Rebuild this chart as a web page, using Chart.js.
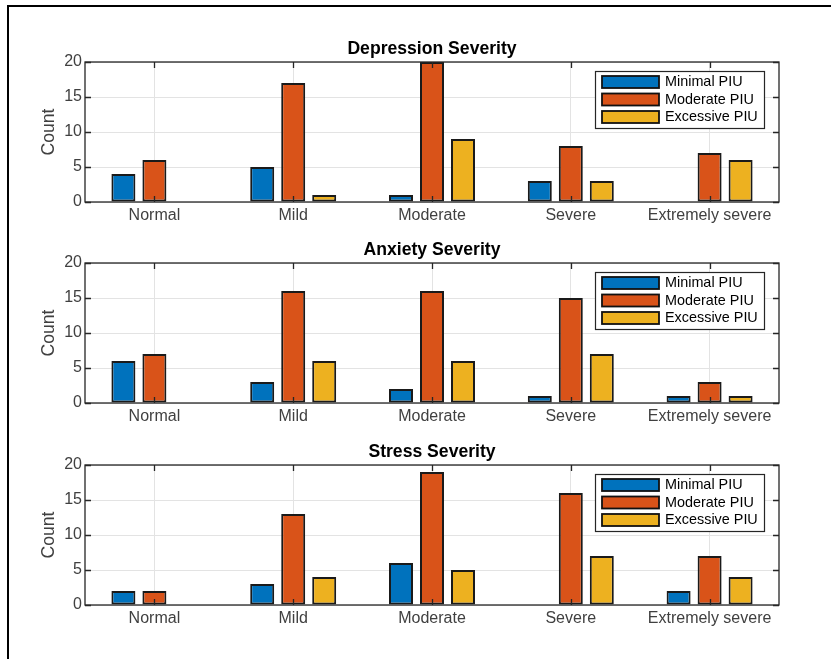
<!DOCTYPE html>
<html>
<head>
<meta charset="utf-8">
<script src="https://cdn.jsdelivr.net/npm/chart.js@4.4.0/dist/chart.umd.min.js"></script>
<style>
body { margin: 0; background: #fff; }
#wrap { position: relative; width: 831px; height: 659px; overflow: hidden; background: #fff; }
#frame { position: absolute; left: 7px; top: 5px; right: -10px; bottom: -10px; border-top: 2px solid #000; border-left: 2px solid #000; }
canvas { position: absolute; left: 0; }
</style>
</head>
<body>
<div id="wrap">
	<div id="frame"></div>
	<canvas id="c0" width="831" height="240" style="top:0px"></canvas>
	<canvas id="c1" width="831" height="240" style="top:201px"></canvas>
	<canvas id="c2" width="831" height="240" style="top:403px"></canvas>
</div>
<script>
const severityLevels = ['Normal', 'Mild', 'Moderate', 'Severe', 'Extremely severe'];
const piuGroups = ['Minimal PIU', 'Moderate PIU', 'Excessive PIU'];
const piuColors = ['#0072BD', '#D95319', '#EDB120'];
const panelTitles = ['Depression Severity', 'Anxiety Severity', 'Stress Severity'];
const yTicks = [0, 5, 10, 15, 20];

// counts per severity level
const depressionMinimal = [4, 5, 1, 3, 0];
const depressionModerate = [6, 17, 20, 8, 7];
const depressionExcessive = [0, 1, 9, 3, 6];

const anxietyMinimal = [6, 3, 2, 1, 1];
const anxietyModerate = [7, 16, 16, 15, 3];
const anxietyExcessive = [0, 6, 6, 7, 1];

const stressMinimal = [2, 3, 6, 0, 2];
const stressModerate = [2, 13, 19, 16, 7];
const stressExcessive = [0, 4, 5, 7, 4];

const panelSeries = [
	[depressionMinimal, depressionModerate, depressionExcessive],
	[anxietyMinimal, anxietyModerate, anxietyExcessive],
	[stressMinimal, stressModerate, stressExcessive]
];

const FONT = '"Liberation Sans", Arial, Helvetica, sans-serif';
const AXIS_COLOR = '#262626';

// MATLAB-like box, inward ticks, title and legend
const matlabAxes = {
	id: 'matlabAxes',
	afterDatasetsDraw(chart, args, opts) {
		const { ctx, chartArea: a, scales: { x, y } } = chart;
		const tl = 6;
		ctx.save();
		ctx.strokeStyle = AXIS_COLOR;
		ctx.lineWidth = 1.3;
		ctx.strokeRect(a.left, a.top, a.right - a.left, a.bottom - a.top);
		ctx.beginPath();
		severityLevels.forEach((_, i) => {
			const px = Math.round(x.getPixelForValue(i)) + 0.5;
			ctx.moveTo(px, a.bottom); ctx.lineTo(px, a.bottom - tl);
			ctx.moveTo(px, a.top); ctx.lineTo(px, a.top + tl);
		});
		yTicks.forEach(v => {
			const py = Math.round(y.getPixelForValue(v)) + 0.5;
			ctx.moveTo(a.left, py); ctx.lineTo(a.left + tl, py);
			ctx.moveTo(a.right, py); ctx.lineTo(a.right - tl, py);
		});
		ctx.stroke();

		// title
		ctx.fillStyle = '#000';
		ctx.font = 'bold 17.6px ' + FONT;
		ctx.textAlign = 'center';
		ctx.textBaseline = 'alphabetic';
		ctx.fillText(opts.title, (a.left + a.right) / 2, a.top - 8);

		// legend box
		const bw = 169, bh = 57;
		const bx = a.right - 15 - bw, by = a.top + 9;
		ctx.fillStyle = '#fff';
		ctx.fillRect(bx, by, bw, bh);
		ctx.strokeStyle = AXIS_COLOR;
		ctx.lineWidth = 1.2;
		ctx.strokeRect(bx + 0.5, by + 0.5, bw, bh);
		ctx.font = '14.4px ' + FONT;
		ctx.textAlign = 'left';
		ctx.textBaseline = 'middle';
		piuGroups.forEach((name, i) => {
			const sy = by + 5 + i * 17.5;
			ctx.fillStyle = piuColors[i];
			ctx.fillRect(bx + 7, sy, 57, 12);
			ctx.strokeStyle = '#111';
			ctx.lineWidth = 1.8;
			ctx.strokeRect(bx + 7, sy, 57, 12);
			ctx.fillStyle = '#000';
			ctx.fillText(name, bx + 70, sy + 6.5);
		});
		ctx.restore();
	}
};

panelSeries.forEach((series, p) => {
	new Chart(document.getElementById('c' + p), {
		type: 'bar',
		data: {
			labels: severityLevels,
			datasets: series.map((vals, i) => ({
				label: piuGroups[i],
				data: vals,
				backgroundColor: piuColors[i],
				borderColor: '#1a1a1a',
				borderWidth: 2,
				borderSkipped: false,
				categoryPercentage: 0.67,
				barPercentage: 0.774
			}))
		},
		options: {
			responsive: false,
			animation: false,
			layout: { padding: { top: 62, left: 39, right: 52, bottom: 8 } },
			plugins: {
				legend: { display: false },
				tooltip: { enabled: false },
				matlabAxes: { title: panelTitles[p] }
			},
			scales: {
				x: {
					grid: { offset: false, color: '#e3e3e3', lineWidth: 1, drawTicks: false },
					border: { display: false },
					ticks: { color: '#404040', font: { family: FONT, size: 16 }, padding: 4, maxRotation: 0, autoSkip: false },
					afterFit(scale) { scale.height = 30; }
				},
				y: {
					min: 0,
					max: 20,
					grid: { color: '#e3e3e3', lineWidth: 1, drawTicks: false },
					border: { display: false },
					ticks: { stepSize: 5, color: '#404040', font: { family: FONT, size: 16 }, padding: 3 },
					title: { display: true, text: 'Count', color: '#404040', font: { family: FONT, size: 17.6 }, padding: 0 },
					afterFit(scale) { scale.width = 46; }
				}
			}
		},
		plugins: [matlabAxes]
	});
});
</script>
</body>
</html>
